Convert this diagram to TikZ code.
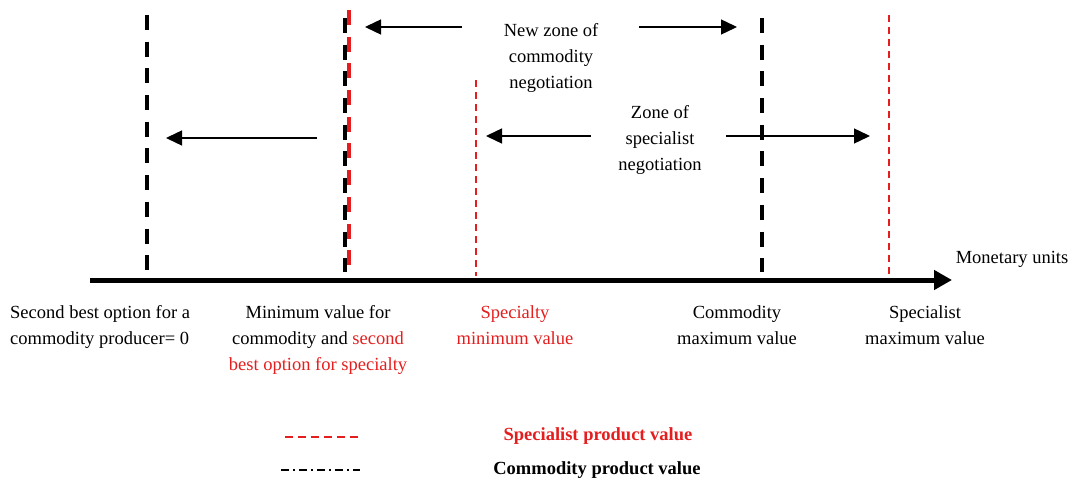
\documentclass[tikz,border=0pt]{standalone}
\usepackage{fontspec}
\setmainfont{Liberation Serif}
\usetikzlibrary{arrows.meta}
\definecolor{myred}{RGB}{228,30,30}
\tikzset{
  lbl/.style={align=center,font=\fontsize{18.5}{26}\selectfont,inner sep=0pt},
  thickdash/.style={line width=3.5pt,dash pattern=on 15pt off 11.7pt},
  reddash/.style={myred,line width=1.6pt,dash pattern=on 7pt off 5pt},
  arr/.style={line width=1.4pt,-{Triangle[length=16pt,width=15pt]}},
}
\begin{document}
\begin{tikzpicture}[x=1pt,y=-1pt]
\useasboundingbox (0,0) rectangle (1070,481);
% axis
\coordinate (a0) at (90,280);
\coordinate (a1) at (952,280);
\draw[line width=5pt,-{Triangle[length=18pt,width=19pt]}] (a0) -- (a1);
% verticals
\coordinate (v1t) at (147,15); \coordinate (v1b) at (147,272);
\draw[thickdash] (v1t) -- (v1b);
\coordinate (v2t) at (345,18); \coordinate (v2b) at (345,272);
\draw[thickdash] (v2t) -- (v2b);
\coordinate (v2rt) at (349,10); \coordinate (v2rb) at (349,265);
\draw[myred,line width=3.5pt,dash pattern=on 15pt off 11.7pt] (v2rt) -- (v2rb);
\coordinate (v3t) at (476,80); \coordinate (v3b) at (476,276);
\draw[reddash] (v3t) -- (v3b);
\coordinate (v4t) at (762,18); \coordinate (v4b) at (762,272);
\draw[thickdash] (v4t) -- (v4b);
\coordinate (v5t) at (889,15); \coordinate (v5b) at (889,276);
\draw[reddash] (v5t) -- (v5b);
% arrows
\coordinate (t1s) at (462,27); \coordinate (t1e) at (365,27);
\coordinate (t2s) at (639,27); \coordinate (t2e) at (737,27);
\coordinate (l1s) at (317,138); \coordinate (l1e) at (166,138);
\coordinate (m1s) at (591,136); \coordinate (m1e) at (486,136);
\coordinate (m2s) at (726,136); \coordinate (m2e) at (870,136);
\draw[arr] (t1s) -- (t1e);
\draw[arr] (t2s) -- (t2e);
\draw[arr] (l1s) -- (l1e);
\draw[arr] (m1s) -- (m1e);
\draw[arr] (m2s) -- (m2e);
% zone labels
\node[lbl] (z1) at (551,58) {New zone of\\commodity\\negotiation};
\node[lbl] (z2) at (660,140) {Zone of\\specialist\\negotiation};
\node[lbl] (mu) at (1012,259) {Monetary units};
% bottom labels
\node[lbl,align=left,anchor=north west] (b1) at (10,305) {Second best option for a\\commodity producer= 0};
\node[lbl,anchor=north] (b2) at (318,305) {Minimum value for\\commodity and \textcolor{myred}{second}\\\textcolor{myred}{best option for specialty}};
\node[lbl,anchor=north,text=myred] (b3) at (515,305) {Specialty\\minimum value};
\node[lbl,anchor=north] (b4) at (737,305) {Commodity\\maximum value};
\node[lbl,anchor=north] (b5) at (925,305) {Specialist\\maximum value};
% legend
\coordinate (g1s) at (285,437); \coordinate (g1e) at (358,437);
\draw[myred,line width=2pt,dash pattern=on 8pt off 5pt] (g1s) -- (g1e);
\coordinate (g2s) at (281,470); \coordinate (g2e) at (360,470);
\draw[line width=2pt,dash pattern=on 8pt off 4pt on 2pt off 4pt] (g2s) -- (g2e);
\node[lbl,font=\fontsize{18.5}{26}\selectfont\bfseries,text=myred] (lg1) at (598,436) {Specialist product value};
\node[lbl,font=\fontsize{18.5}{26}\selectfont\bfseries] (lg2) at (597,470) {Commodity product value};
\end{tikzpicture}
\end{document}
